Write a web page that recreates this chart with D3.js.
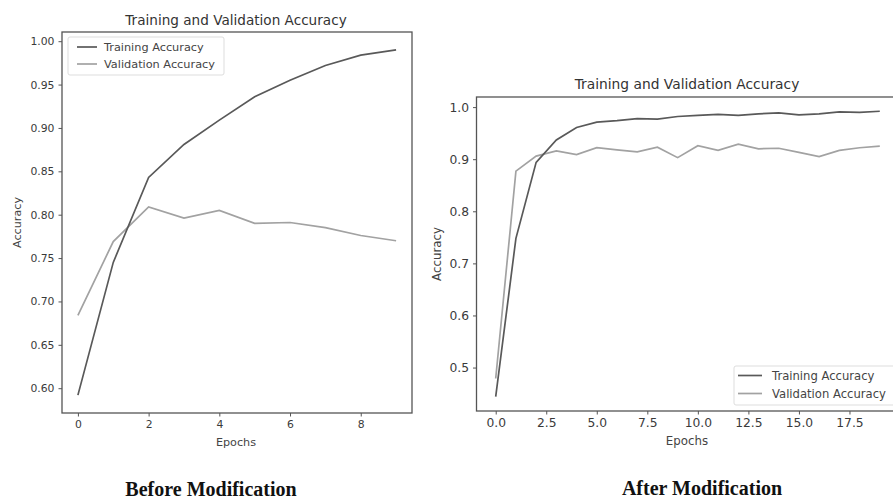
<!DOCTYPE html>
<html>
<head>
<meta charset="utf-8">
<script src="https://cdn.jsdelivr.net/npm/d3@7"></script>
<style>
  html, body { margin: 0; padding: 0; background: #fff; }
  svg { display: block; font-family: "DejaVu Sans", sans-serif; }
</style>
</head>
<body>
<svg id="chart" width="893" height="500"></svg>
<script>
// ---- Data ----
const epochsBefore = [0, 1, 2, 3, 4, 5, 6, 7, 8, 9];
const trainBefore = [0.592, 0.745, 0.843, 0.881, 0.909, 0.936, 0.955, 0.972, 0.984, 0.990];
const valBefore   = [0.684, 0.769, 0.809, 0.796, 0.805, 0.790, 0.791, 0.785, 0.776, 0.770];
const yTicksBefore = [0.60, 0.65, 0.70, 0.75, 0.80, 0.85, 0.90, 0.95, 1.00];
const xTicksBefore = [0, 2, 4, 6, 8];

const epochsAfter = [0, 1, 2, 3, 4, 5, 6, 7, 8, 9, 10, 11, 12, 13, 14, 15, 16, 17, 18, 19];
const trainAfter = [0.444, 0.748, 0.894, 0.937, 0.961, 0.971, 0.974, 0.978, 0.977, 0.982, 0.984, 0.986, 0.984, 0.987, 0.989, 0.985, 0.987, 0.991, 0.990, 0.992];
const valAfter   = [0.479, 0.877, 0.906, 0.916, 0.909, 0.922, 0.918, 0.914, 0.923, 0.903, 0.926, 0.917, 0.929, 0.920, 0.921, 0.913, 0.905, 0.917, 0.922, 0.925];
const yTicksAfter = [0.5, 0.6, 0.7, 0.8, 0.9, 1.0];
const xTicksAfter = [0, 2.5, 5, 7.5, 10, 12.5, 15, 17.5];

const seriesNames = ["Training Accuracy", "Validation Accuracy"];
const chartTitle = "Training and Validation Accuracy";
const captions = ["Before Modification", "After Modification"];

const colTrain = "#595959";
const colVal = "#a2a2a2";
const svg = d3.select("#chart");

function panel(opt) {
  const g = svg.append("g");
  const x = d3.scaleLinear().domain(opt.xDomain).range([opt.left, opt.right]);
  const y = d3.scaleLinear().domain(opt.yDomain).range([opt.bottom, opt.top]);

  const line = d3.line().x((d, i) => x(opt.epochs[i])).y(d => y(d));
  g.append("path").datum(opt.val).attr("d", line)
    .attr("fill", "none").attr("stroke", colVal).attr("stroke-width", 1.7);
  g.append("path").datum(opt.train).attr("d", line)
    .attr("fill", "none").attr("stroke", colTrain).attr("stroke-width", 1.7);

  // frame
  g.append("rect").attr("x", opt.left).attr("y", opt.top)
    .attr("width", opt.right - opt.left).attr("height", opt.bottom - opt.top)
    .attr("fill", "none").attr("stroke", "#555").attr("stroke-width", 1.3);

  const xa = g.append("g").attr("transform", `translate(0,${opt.bottom})`)
    .call(d3.axisBottom(x).tickValues(opt.xTicks).tickFormat(opt.xFmt).tickSize(3.5).tickPadding(4));
  const ya = g.append("g").attr("transform", `translate(${opt.left},0)`)
    .call(d3.axisLeft(y).tickValues(opt.yTicks).tickFormat(opt.yFmt).tickSize(3.5).tickPadding(4));
  [xa, ya].forEach(a => {
    a.select(".domain").remove();
    a.selectAll("line").attr("stroke", "#555");
    a.selectAll("text").attr("fill", "#3a3a3a").style("font-size", opt.tickFont + "px")
      .style("font-family", "DejaVu Sans, sans-serif");
  });

  g.append("text").attr("x", opt.titleX).attr("y", opt.titleY)
    .attr("text-anchor", "middle").attr("fill", "#333").style("font-size", opt.titleFont + "px")
    .text(chartTitle);
  g.append("text").attr("x", opt.titleX).attr("y", opt.xLabelY)
    .attr("text-anchor", "middle").attr("fill", "#444").style("font-size", opt.labelFont + "px")
    .text("Epochs");
  g.append("text")
    .attr("transform", `translate(${opt.yLabelX},${(opt.top + opt.bottom) / 2}) rotate(-90)`)
    .attr("text-anchor", "middle").attr("fill", "#444").style("font-size", opt.labelFont + "px")
    .text("Accuracy");

  // legend
  const L = opt.legend;
  g.append("rect").attr("x", L.x).attr("y", L.y).attr("width", L.w).attr("height", L.h)
    .attr("rx", 2).attr("fill", "#fff").attr("stroke", "#ddd").attr("stroke-width", 1);
  const cols = [colTrain, colVal];
  seriesNames.forEach((name, i) => {
    const yy = L.y + L.first + i * L.step;
    g.append("line").attr("x1", L.x + L.lx0).attr("x2", L.x + L.lx1)
      .attr("y1", yy).attr("y2", yy).attr("stroke", cols[i]).attr("stroke-width", 1.7);
    g.append("text").attr("x", L.x + L.tx).attr("y", yy).attr("dy", "0.35em")
      .attr("fill", "#444").style("font-size", L.font + "px").text(name);
  });

  // caption
  svg.append("text").attr("x", opt.captionX).attr("y", opt.captionY)
    .attr("text-anchor", "middle").attr("fill", "#111")
    .style("font-family", "'Liberation Serif', 'Times New Roman', serif")
    .style("font-weight", "bold").style("font-size", "20px")
    .text(opt.caption);
}

panel({
  epochs: epochsBefore, train: trainBefore, val: valBefore,
  xDomain: [-0.45, 9.45], yDomain: [0.5714, 1.0106],
  left: 62, right: 412, top: 32, bottom: 413,
  xTicks: xTicksBefore, yTicks: yTicksBefore,
  xFmt: d3.format("d"), yFmt: d3.format(".2f"),
  tickFont: 10.8, titleFont: 13.6, labelFont: 11.2,
  titleX: 236, titleY: 24.5, xLabelY: 446, yLabelX: 21,
  legend: { x: 68, y: 37, w: 156, h: 38, first: 10, step: 17, lx0: 9, lx1: 29, tx: 36, font: 11.3 },
  caption: captions[0], captionX: 211, captionY: 496
});

panel({
  epochs: epochsAfter, train: trainAfter, val: valAfter,
  xDomain: [-0.95, 19.95], yDomain: [0.4166, 1.0194],
  left: 476.5, right: 899, top: 97, bottom: 411,
  xTicks: xTicksAfter, yTicks: yTicksAfter,
  xFmt: d3.format(".1f"), yFmt: d3.format(".1f"),
  tickFont: 12.3, titleFont: 13.8, labelFont: 11.8,
  titleX: 687, titleY: 89, xLabelY: 444.5, yLabelX: 441,
  legend: { x: 734, y: 366, w: 170, h: 39, first: 9.5, step: 18, lx0: 4, lx1: 28, tx: 38, font: 11.6 },
  caption: captions[1], captionX: 702, captionY: 495
});
</script>
</body>
</html>
